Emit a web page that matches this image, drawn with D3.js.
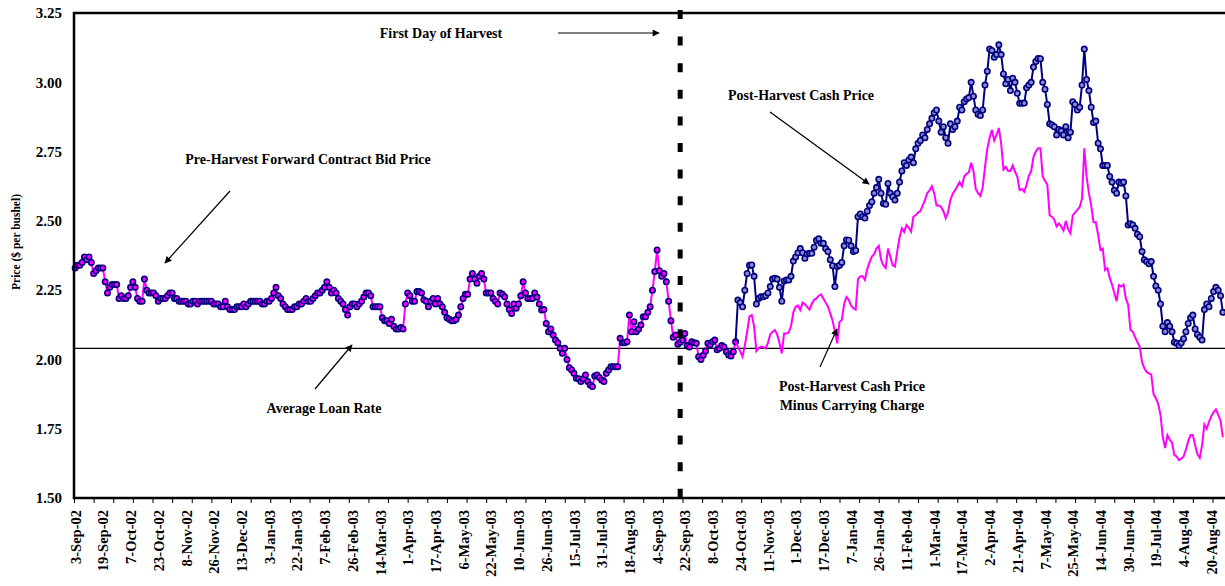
<!DOCTYPE html>
<html>
<head>
<meta charset="utf-8">
<script src="https://cdn.jsdelivr.net/npm/d3@7"></script>
<style>
  body { margin: 0; background: #fff; }
  svg text { font-family: "Liberation Serif", "Times New Roman", serif; font-weight: bold; fill: #000; }
</style>
</head>
<body>
<div id="chart"></div>
<script>
// Category labels on the x axis (one every 12 trading days)
const tickLabels = ['3-Sep-02','19-Sep-02','7-Oct-02','23-Oct-02','8-Nov-02','26-Nov-02','13-Dec-02',
  '3-Jan-03','22-Jan-03','7-Feb-03','26-Feb-03','14-Mar-03','1-Apr-03','17-Apr-03','6-May-03',
  '22-May-03','10-Jun-03','26-Jun-03','15-Jul-03','31-Jul-03','18-Aug-03','4-Sep-03','22-Sep-03',
  '8-Oct-03','24-Oct-03','11-Nov-03','1-Dec-03','17-Dec-03','7-Jan-04','26-Jan-04','11-Feb-04',
  '1-Mar-04','17-Mar-04','2-Apr-04','21-Apr-04','7-May-04','25-May-04','14-Jun-04','30-Jun-04',
  '19-Jul-04','4-Aug-04','20-Aug-04'];
const labelEvery = 12;
const tickMarkEvery = 8.5;
const dayCount = 498;

const yTicks = [1.50, 1.75, 2.00, 2.25, 2.50, 2.75, 3.00, 3.25];
const loanRate = 2.04;
const harvestDay = 262;
const cashStart = 286;

// Pre-harvest forward contract bid, trading days 0..286
const forwardBid = [
  2.33,2.34,2.34,2.35,2.37,2.36,2.37,2.35,2.31,2.32,2.33,2.33,2.33,2.28,2.24,2.26,2.27,2.27,2.27,2.22,
  2.23,2.22,2.22,2.23,2.26,2.28,2.26,2.22,2.21,2.21,2.29,2.25,2.24,2.24,2.24,2.23,2.21,2.22,2.22,2.22,
  2.23,2.24,2.24,2.22,2.22,2.21,2.21,2.21,2.21,2.20,2.20,2.21,2.21,2.20,2.21,2.21,2.21,2.21,2.21,2.21,
  2.20,2.20,2.20,2.19,2.19,2.21,2.19,2.18,2.18,2.18,2.19,2.19,2.19,2.20,2.19,2.20,2.21,2.21,2.21,2.21,
  2.21,2.20,2.20,2.21,2.21,2.22,2.24,2.26,2.23,2.22,2.20,2.19,2.18,2.18,2.18,2.19,2.19,2.20,2.20,2.21,
  2.22,2.21,2.21,2.22,2.23,2.24,2.24,2.25,2.26,2.28,2.26,2.24,2.25,2.24,2.22,2.21,2.20,2.18,2.16,2.19,
  2.20,2.20,2.19,2.20,2.21,2.225,2.24,2.24,2.23,2.19,2.19,2.19,2.19,2.15,2.14,2.14,2.13,2.145,2.12,2.11,
  2.11,2.115,2.11,2.20,2.24,2.23,2.21,2.21,2.245,2.245,2.24,2.215,2.21,2.19,2.21,2.22,2.20,2.22,2.20,2.19,
  2.17,2.15,2.145,2.14,2.14,2.145,2.16,2.19,2.22,2.235,2.235,2.29,2.31,2.29,2.275,2.30,2.31,2.29,2.24,2.24,
  2.24,2.22,2.21,2.20,2.24,2.235,2.226,2.20,2.18,2.166,2.20,2.185,2.20,2.23,2.28,2.24,2.22,2.22,2.22,2.24,
  2.225,2.20,2.178,2.18,2.13,2.10,2.11,2.088,2.07,2.06,2.04,2.022,2.04,2.00,1.97,1.962,1.95,1.932,1.93,1.92,
  1.93,1.944,1.92,1.908,1.902,1.94,1.944,1.935,1.926,1.92,1.95,1.962,1.974,1.974,1.974,1.974,2.076,2.06,2.06,2.064,
  2.16,2.10,2.136,2.10,2.11,2.124,2.154,2.154,2.17,2.19,2.25,2.317,2.395,2.32,2.30,2.31,2.28,2.21,2.14,2.08,
  2.088,2.055,2.062,2.07,2.094,2.05,2.045,2.064,2.06,2.058,2.01,2.00,2.015,2.03,2.058,2.052,2.064,2.07,2.035,2.04,
  2.05,2.045,2.028,2.016,2.012,2.028,2.064
];

// Post-harvest cash price, trading days 286..497
const cashPrice = [
  2.064,2.214,2.205,2.19,2.25,2.31,2.34,2.341,2.30,2.20,2.22,2.226,2.226,2.23,2.24,2.263,2.29,2.293,2.29,2.26,
  2.21,2.283,2.287,2.287,2.30,2.355,2.37,2.385,2.40,2.385,2.365,2.38,2.383,2.383,2.405,2.43,2.435,2.419,2.419,2.40,
  2.389,2.36,2.338,2.263,2.335,2.34,2.35,2.41,2.431,2.43,2.41,2.389,2.393,2.515,2.525,2.515,2.51,2.535,2.555,2.569,
  2.60,2.62,2.65,2.60,2.563,2.56,2.635,2.60,2.587,2.575,2.60,2.64,2.68,2.71,2.70,2.72,2.73,2.71,2.76,2.78,
  2.79,2.81,2.80,2.83,2.85,2.87,2.89,2.90,2.86,2.82,2.84,2.80,2.78,2.85,2.83,2.84,2.86,2.91,2.90,2.93,
  2.94,2.945,3.00,2.95,2.90,2.885,2.88,2.90,2.99,3.04,3.12,3.115,3.09,3.10,3.135,3.10,3.03,2.995,3.01,2.97,
  3.015,3.00,2.96,2.924,2.924,2.925,2.98,2.99,3.00,3.055,3.075,3.086,3.085,3.00,2.975,2.92,2.85,2.846,2.84,2.81,
  2.83,2.825,2.81,2.84,2.80,2.82,2.93,2.92,2.90,2.91,2.99,3.12,3.01,2.97,2.91,2.855,2.86,2.78,2.76,2.70,
  2.70,2.70,2.66,2.64,2.61,2.60,2.64,2.636,2.64,2.59,2.485,2.49,2.485,2.473,2.452,2.443,2.389,2.36,2.353,2.345,
  2.353,2.30,2.265,2.25,2.20,2.12,2.10,2.133,2.12,2.10,2.062,2.058,2.05,2.06,2.075,2.10,2.13,2.15,2.16,2.11,
  2.09,2.08,2.07,2.18,2.20,2.19,2.22,2.245,2.26,2.25,2.23,2.17
];

// Post-harvest cash price minus carrying charge, trading days 286..497
const cashMinusCarry = [
  2.064,2.046,2.028,2.01,2.05,2.10,2.155,2.16,2.12,2.03,2.04,2.046,2.044,2.04,2.06,2.09,2.10,2.106,2.09,2.06,
  2.022,2.094,2.094,2.097,2.12,2.17,2.19,2.195,2.178,2.205,2.20,2.19,2.18,2.20,2.215,2.22,2.23,2.235,2.22,2.205,
  2.19,2.166,2.14,2.10,2.058,2.135,2.142,2.20,2.225,2.215,2.195,2.185,2.18,2.29,2.30,2.30,2.287,2.325,2.35,2.371,
  2.38,2.40,2.41,2.36,2.34,2.33,2.40,2.37,2.34,2.335,2.39,2.44,2.473,2.46,2.485,2.475,2.461,2.515,2.52,2.53,
  2.535,2.555,2.575,2.60,2.61,2.625,2.60,2.555,2.555,2.55,2.535,2.51,2.53,2.575,2.597,2.61,2.625,2.64,2.625,2.66,
  2.67,2.675,2.71,2.68,2.615,2.60,2.59,2.62,2.695,2.76,2.80,2.828,2.79,2.81,2.835,2.78,2.685,2.695,2.68,2.68,
  2.70,2.677,2.66,2.611,2.615,2.605,2.63,2.662,2.68,2.73,2.75,2.762,2.762,2.66,2.645,2.63,2.52,2.515,2.505,2.48,
  2.49,2.48,2.465,2.50,2.47,2.455,2.52,2.53,2.54,2.55,2.58,2.762,2.66,2.60,2.555,2.495,2.495,2.45,2.395,2.40,
  2.323,2.33,2.295,2.27,2.24,2.21,2.268,2.263,2.27,2.22,2.197,2.106,2.10,2.08,2.062,2.046,1.99,1.968,1.955,1.95,
  1.945,1.875,1.86,1.84,1.80,1.72,1.68,1.727,1.71,1.70,1.655,1.65,1.637,1.642,1.65,1.675,1.705,1.727,1.727,1.69,
  1.658,1.645,1.69,1.765,1.75,1.775,1.795,1.81,1.82,1.80,1.78,1.72
];

const NAVY = '#000080';
const MAGENTA = '#ff00ff';

class PriceChart {
  constructor(_config) {
    this.config = {
      parentElement: _config.parentElement,
      width:  _config.width,
      height: _config.height,
      margin: _config.margin
    };
    this.initVis();
  }

  initVis() {
    const vis = this;
    const m = vis.config.margin;

    vis.innerW = vis.config.width - m.left - m.right;
    vis.innerH = vis.config.height - m.top - m.bottom;

    vis.svg = d3.select(vis.config.parentElement).append('svg')
      .attr('width', vis.config.width)
      .attr('height', vis.config.height);

    const defs = vis.svg.append('defs');
    defs.append('marker')
        .attr('id', 'arrow')
        .attr('viewBox', '0 0 10 10')
        .attr('refX', 9).attr('refY', 5)
        .attr('markerWidth', 9).attr('markerHeight', 7)
        .attr('markerUnits', 'userSpaceOnUse')
        .attr('orient', 'auto')
      .append('path')
        .attr('d', 'M0,0 L10,5 L0,10 Z')
        .attr('fill', '#000');

    vis.chart = vis.svg.append('g')
      .attr('transform', `translate(${m.left},${m.top})`);

    vis.xScale = d3.scaleLinear().domain([-0.5, dayCount - 0.5]).range([0, vis.innerW]);
    vis.yScale = d3.scaleLinear().domain([1.5, 3.25]).range([vis.innerH, 0]);

    vis.renderVis();
  }

  renderVis() {
    const vis = this;
    const x = vis.xScale, y = vis.yScale;

    // --- Y axis labels ---
    const yAxis = vis.chart.append('g')
      .call(d3.axisLeft(y).tickValues(yTicks).tickSize(0).tickPadding(12).tickFormat(d3.format('.2f')));
    yAxis.select('.domain').remove();
    yAxis.selectAll('text').style('font-size', '15px').attr('font-family', null);

    vis.svg.append('text')
      .attr('transform', 'translate(20,242) rotate(-90)')
      .attr('text-anchor', 'middle')
      .style('font-size', '11.5px')
      .text('Price ($ per bushel)');

    // --- Average loan rate ---
    vis.chart.append('line')
      .attr('x1', 0).attr('x2', vis.innerW + 5)
      .attr('y1', y(loanRate)).attr('y2', y(loanRate))
      .attr('stroke', '#000').attr('stroke-width', 1.3);

    // --- Forward contract bid (pre-harvest) ---
    const fwd = forwardBid.map((v, i) => ({ i, v }));
    const line = d3.line().x(d => x(d.i)).y(d => y(d.v));

    vis.chart.append('path').datum(fwd)
      .attr('d', line).attr('fill', 'none')
      .attr('stroke', MAGENTA).attr('stroke-width', 2);

    vis.chart.selectAll('.fwd-dot').data(fwd).join('circle')
      .attr('class', 'fwd-dot')
      .attr('cx', d => x(d.i)).attr('cy', d => y(d.v)).attr('r', 2.7)
      .attr('fill', MAGENTA).attr('stroke', NAVY).attr('stroke-width', 1.6);

    // --- Post-harvest cash price ---
    const cash = cashPrice.map((v, k) => ({ i: cashStart + k, v }));
    const net  = cashMinusCarry.map((v, k) => ({ i: cashStart + k, v }));

    vis.chart.append('path').datum(cash)
      .attr('d', line).attr('fill', 'none')
      .attr('stroke', NAVY).attr('stroke-width', 2);

    vis.chart.selectAll('.cash-dot').data(cash.slice(1)).join('circle')
      .attr('class', 'cash-dot')
      .attr('cx', d => x(d.i)).attr('cy', d => y(d.v)).attr('r', 2.7)
      .attr('fill', '#8c8cd0').attr('stroke', NAVY).attr('stroke-width', 1.6);

    vis.chart.append('path').datum(net)
      .attr('d', line).attr('fill', 'none')
      .attr('stroke', MAGENTA).attr('stroke-width', 2);

    // --- First day of harvest ---
    vis.chart.append('line')
      .attr('x1', x(harvestDay)).attr('x2', x(harvestDay))
      .attr('y1', -3).attr('y2', vis.innerH)
      .attr('stroke', '#000').attr('stroke-width', 5)
      .attr('stroke-dasharray', '9,17.6');

    // --- Frame ---
    vis.chart.append('rect')
      .attr('x', 0).attr('y', 0)
      .attr('width', vis.innerW + 10).attr('height', vis.innerH)
      .attr('fill', 'none').attr('stroke', '#000').attr('stroke-width', 2.5);

    // --- X axis: minor tick marks and date labels ---
    const markVals = d3.range(-0.5, dayCount, tickMarkEvery);
    const marks = vis.chart.append('g')
      .attr('transform', `translate(0,${vis.innerH})`)
      .call(d3.axisBottom(x).tickValues(markVals).tickSize(5).tickFormat(''));
    marks.select('.domain').remove();
    marks.selectAll('line').attr('stroke-width', 1);

    const labelVals = tickLabels.map((_, k) => k * labelEvery);
    const xAxis = vis.chart.append('g')
      .attr('transform', `translate(0,${vis.innerH})`)
      .call(d3.axisBottom(x).tickValues(labelVals).tickSize(0)
        .tickFormat((d, k) => tickLabels[k]));
    xAxis.select('.domain').remove();
    xAxis.selectAll('text')
      .attr('font-family', null)
      .style('font-size', '14.5px')
      .attr('text-anchor', 'end')
      .attr('transform', 'rotate(-90)')
      .attr('x', -12).attr('y', 0).attr('dy', '0.35em');

    // --- Annotations ---
    const notes = [
      { text: ['First Day of Harvest'], x: 441, y: 38 },
      { text: ['Pre-Harvest Forward Contract Bid Price'], x: 308, y: 164 },
      { text: ['Post-Harvest Cash Price'], x: 801, y: 100 },
      { text: ['Average Loan Rate'], x: 324, y: 413 },
      { text: ['Post-Harvest Cash Price', 'Minus Carrying Charge'], x: 852, y: 391 }
    ];
    notes.forEach(n => {
      n.text.forEach((t, k) => {
        vis.svg.append('text')
          .attr('x', n.x).attr('y', n.y + k * 19)
          .attr('text-anchor', 'middle')
          .style('font-size', '14px')
          .text(t);
      });
    });

    const arrows = [
      [558, 33, 659, 33],
      [230, 191, 165, 263],
      [770, 112, 869, 184],
      [315, 389, 352, 345],
      [820, 367, 837, 329]
    ];
    arrows.forEach(a => {
      vis.svg.append('line')
        .attr('x1', a[0]).attr('y1', a[1]).attr('x2', a[2]).attr('y2', a[3])
        .attr('stroke', '#000').attr('stroke-width', 1.2)
        .attr('marker-end', 'url(#arrow)');
    });
  }
}

new PriceChart({
  parentElement: '#chart',
  width: 1225,
  height: 586,
  margin: { top: 13, right: 1, bottom: 88, left: 74 }
});
</script>
</body>
</html>
